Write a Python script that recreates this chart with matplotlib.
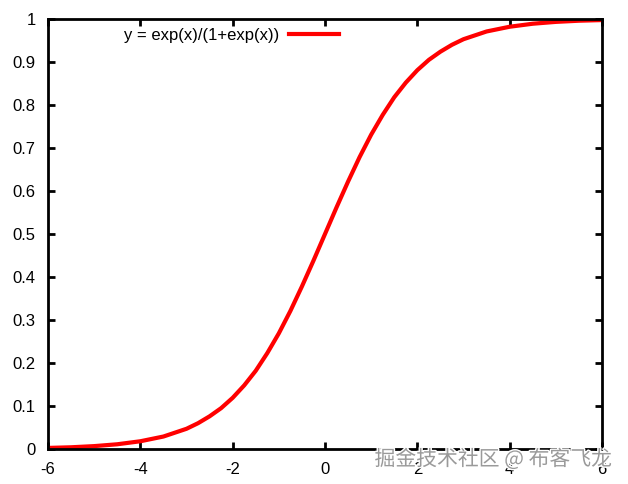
import matplotlib.pyplot as plt
import matplotlib.patheffects as pe

# values, x from -6 to 6
x_vals = [-6, -5.5, -5, -4.5, -4, -3.5, -3, -2.75, -2.5, -2.25, -2, -1.75, -1.5, -1.25, -1,
          -0.75, -0.5, -0.25, 0, 0.25, 0.5, 0.75, 1, 1.25, 1.5, 1.75, 2, 2.25, 2.5, 2.75,
          3, 3.5, 4, 4.5, 5, 5.5, 6]
y_vals = [0.0025, 0.004, 0.0067, 0.011, 0.018, 0.029, 0.047, 0.060, 0.076, 0.095, 0.119,
          0.148, 0.182, 0.223, 0.269, 0.321, 0.378, 0.438, 0.5, 0.562, 0.622, 0.679, 0.731,
          0.777, 0.818, 0.852, 0.881, 0.905, 0.924, 0.940, 0.953, 0.971, 0.982, 0.989,
          0.9933, 0.996, 0.9975]
x_ticks = [-6, -4, -2, 0, 2, 4, 6]
y_ticks = [0, 0.1, 0.2, 0.3, 0.4, 0.5, 0.6, 0.7, 0.8, 0.9, 1]
x_labels = ["-6", "-4", "-2", "0", "2", "4", "6"]
y_labels = ["0", "0.1", "0.2", "0.3", "0.4", "0.5", "0.6", "0.7", "0.8", "0.9", "1"]

plt.rcParams['font.family'] = ['Liberation Sans', 'DejaVu Sans']

fig = plt.figure(figsize=(6.28, 4.84), dpi=100)
ax = fig.add_axes([48/628, 35/484, 554/628, 430/484])

ax.plot(x_vals, y_vals, color='#ff0000', linewidth=3, label='y = exp(x)/(1+exp(x))')

ax.set_xlim(-6, 6)
ax.set_ylim(0, 1)
ax.set_xticks(x_ticks)
ax.set_xticklabels(x_labels)
ax.set_yticks(y_ticks)
ax.set_yticklabels(y_labels)
ax.tick_params(direction='in', top=True, right=True, length=5, width=2,
               labelsize=12, pad=9, colors='black')
for s in ax.spines.values():
    s.set_linewidth(2)

ax.legend(loc='upper left', bbox_to_anchor=(0.125, 0.995), frameon=False,
          markerfirst=False, handlelength=3.0, handletextpad=0.6, fontsize=12,
          borderaxespad=0)

fig.text(0.975, 0.028, '掘金技术社区 @ 布客飞龙', ha='right', va='bottom',
         fontsize=15, color='#9a9a9a', family=['Noto Sans CJK SC', 'DejaVu Sans'],
         path_effects=[pe.withStroke(linewidth=2, foreground='white')])

fig.savefig('out.png', dpi=100)
